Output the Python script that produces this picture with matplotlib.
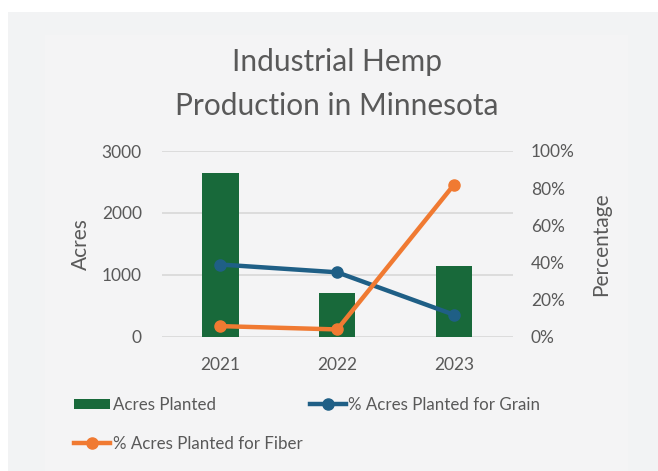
import matplotlib
matplotlib.use("Agg")
import matplotlib.pyplot as plt
from matplotlib.patches import Rectangle
from matplotlib.lines import Line2D
from matplotlib.ticker import FuncFormatter

years = ["2021", "2022", "2023"]
acres_planted = [2650, 700, 1140]
pct_grain = [0.388, 0.346, 0.117]
pct_fiber = [0.056, 0.038, 0.819]

title = "Industrial Hemp\nProduction in Minnesota"
left_label = "Acres"
right_label = "Percentage"
legend_labels = ["Acres Planted", "% Acres Planted for Grain", "% Acres Planted for Fiber"]

GREEN = "#18693A"
BLUE = "#1F5F86"
ORANGE = "#F07A32"
TEXT = "#595959"
GRID = "#DADADA"

plt.rcParams['font.family'] = ['Lato', 'DejaVu Sans']

W, H = 658, 471
fig = plt.figure(figsize=(W / 100, H / 100), dpi=100)
fig.patch.set_facecolor("white")

def fr(x0, y0, x1, y1):
    return (x0 / W, 1 - y1 / H, (x1 - x0) / W, (y1 - y0) / H)

x, y, w, h = fr(8, 12, 658, 471)
fig.patches.append(Rectangle((x, y), w, h, transform=fig.transFigure, facecolor="#F2F3F4", edgecolor="none", zorder=-10))
x, y, w, h = fr(45, 35, 628, 471)
fig.patches.append(Rectangle((x, y), w, h, transform=fig.transFigure, facecolor="#F4F4F5", edgecolor="none", zorder=-9))

ax = fig.add_axes(fr(162, 151, 512.5, 336.5))
ax.set_zorder(2)
ax.set_facecolor("none")
pos = list(range(len(years)))
ax.bar(pos, acres_planted, width=0.31, color=GREEN, zorder=2)
ax.set_xlim(-0.5, len(years) - 0.5)
ax.set_ylim(0, 3000)
ax.set_yticks([0, 1000, 2000, 3000])
ax.set_xticks(pos)
ax.set_xticklabels(years)
ax.yaxis.grid(True, color=GRID, linewidth=1.3, zorder=0)
ax.set_axisbelow(True)
for s in ax.spines.values():
    s.set_visible(False)
ax.tick_params(axis='both', length=0, labelsize=12.5, colors=TEXT)
ax.tick_params(axis='y', pad=14.5)
ax.tick_params(axis='x', pad=15)
ax.set_ylabel(left_label, fontsize=15, color=TEXT, labelpad=8)

ax2 = ax.twinx()
ax2.set_zorder(3)
ax2.set_facecolor("none")
ax2.set_ylim(0, 1.0)
ax2.set_yticks([0, 0.2, 0.4, 0.6, 0.8, 1.0])
ax2.yaxis.set_major_formatter(FuncFormatter(lambda v, p: f"{int(round(v * 100))}%"))
for s in ax2.spines.values():
    s.set_visible(False)
ax2.tick_params(axis='y', length=0, labelsize=12.5, colors=TEXT, pad=13.3)
ax2.set_ylabel(right_label, fontsize=15, color=TEXT, labelpad=12)
ax2.plot(pos, pct_grain, color=BLUE, linewidth=3.2, marker='o', markersize=8, zorder=3)
ax2.plot(pos, pct_fiber, color=ORANGE, linewidth=3.2, marker='o', markersize=8, zorder=3)

fig.text(337 / W, 1 - 84 / H, title, ha='center', va='center', fontsize=21.5, color=TEXT, linespacing=1.72)

handles = [
    Rectangle((0, 0), 1, 1, facecolor=GREEN, edgecolor="none"),
    Line2D([], [], color=ORANGE, linewidth=3.2, marker='o', markersize=8),
    Line2D([], [], color=BLUE, linewidth=3.2, marker='o', markersize=8),
]
labels = [legend_labels[0], legend_labels[2], legend_labels[1]]
leg = fig.legend(handles, labels, ncol=2, loc='upper left', bbox_to_anchor=(74 / W, 1 - 397 / H),
                 frameon=False, fontsize=12.2, labelcolor=TEXT, handlelength=2.15, handleheight=0.6,
                 handletextpad=0.15, columnspacing=0.4, labelspacing=1.35, borderaxespad=0, borderpad=0)

fig.savefig("out.png", dpi=100, facecolor=fig.get_facecolor())
